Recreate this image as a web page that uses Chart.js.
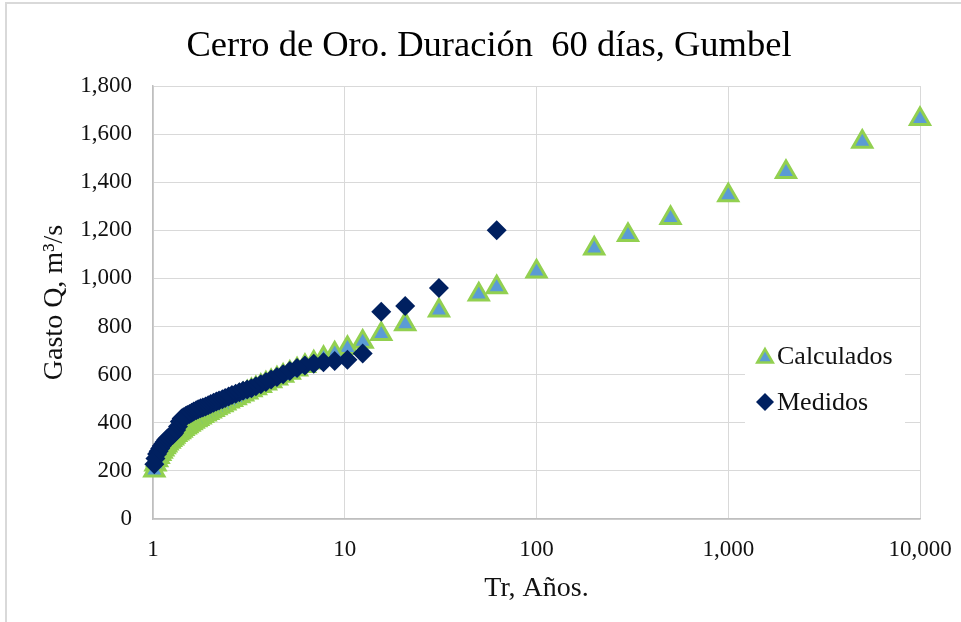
<!DOCTYPE html>
<html lang="es">
<head>
    <meta charset="UTF-8">
    <title>Cerro de Oro. Duración 60 días, Gumbel</title>
    <script src="https://cdn.jsdelivr.net/npm/chart.js"></script>
    <style>
        body {
            margin: 0;
            background: #ffffff;
        }
        .wrap {
            position: relative;
            width: 961px;
            height: 622px;
            overflow: hidden;
        }
        .frame {
            position: absolute;
            left: 5px;
            top: 2px;
            width: 1200px;
            height: 900px;
            border-left: 2px solid #d9d9d9;
            border-top: 2px solid #d9d9d9;
            pointer-events: none;
        }
        canvas {
            position: absolute;
            left: 0;
            top: 0;
        }
    </style>
</head>
<body>
    <div class="wrap">
        <canvas id="gumbelChart" width="961" height="622"></canvas>
        <div class="frame"></div>
    </div>

    <script>
        // periodos de retorno de los datos observados (n = 61)
        const trObs = [
            62, 31, 20.67, 15.5, 12.4, 10.33, 8.86, 7.75, 6.89, 6.2,
            5.64, 5.17, 4.77, 4.43, 4.13, 3.88, 3.65, 3.44, 3.26, 3.1,
            2.95, 2.82, 2.7, 2.58, 2.48, 2.38, 2.3, 2.21, 2.14, 2.07,
            2, 1.94, 1.88, 1.82, 1.77, 1.72, 1.68, 1.63, 1.59, 1.55,
            1.51, 1.48, 1.44, 1.41, 1.38, 1.35, 1.32, 1.29, 1.27, 1.24,
            1.22, 1.19, 1.17, 1.15, 1.13, 1.11, 1.09, 1.07, 1.05, 1.03, 1.016
        ];
        const qMedidos = [
            1200, 960, 885, 862, 688, 662, 657, 652, 645, 638,
            628, 615, 602, 590, 580, 570, 560, 552, 544, 538,
            533, 527, 521, 515, 509, 503, 498, 493, 488, 483,
            478, 473, 468, 464, 460, 456, 452, 447, 442, 437,
            432, 428, 423, 418, 405, 385, 370, 358, 350, 345,
            340, 335, 328, 320, 312, 303, 293, 282, 270, 252, 228
        ];
        const qCalcObs = [
            963, 867, 810, 769, 737, 711, 688, 669, 651, 636,
            621, 608, 596, 584, 573, 563, 553, 544, 535, 526,
            518, 510, 502, 495, 488, 480, 473, 467, 460, 453,
            447, 441, 434, 428, 422, 416, 410, 404, 398, 392,
            386, 380, 374, 367, 361, 355, 349, 342, 335, 328,
            321, 314, 306, 298, 289, 280, 270, 258, 244, 227, 202
        ];
        // periodos de retorno de diseño
        const trDiseno = [10000, 5000, 2000, 1000, 500, 300, 200, 100, 50];
        const qCalcDiseno = [1663, 1568, 1442, 1346, 1251, 1181, 1125, 1029, 933];

        const xTicks = [1, 10, 100, 1000, 10000];
        const seriesNames = ["Calculados", "Medidos"];
        const chartTitle = "Cerro de Oro. Duración  60 días, Gumbel";

        const serif = "'Liberation Serif', 'Times New Roman', serif";
        const colTri = "#5b9bd5";
        const colTriBorder = "#92d050";
        const colDiamond = "#002060";

        function toPoints(xs, ys) {
            return xs.map((x, i) => ({ x: x, y: ys[i] }));
        }

        const calcPoints = toPoints(trDiseno, qCalcDiseno).concat(toPoints(trObs, qCalcObs));
        const medPoints = toPoints(trObs, qMedidos);

        // título y leyenda dibujados a mano
        const boxLegend = {
            id: "boxLegend",
            afterDraw(chart) {
                const ctx = chart.ctx;
                ctx.save();
                ctx.fillStyle = "#000000";
                ctx.font = "36.5px " + serif;
                ctx.textAlign = "center";
                ctx.textBaseline = "middle";
                ctx.fillText(chartTitle, 489, 46);

                ctx.fillStyle = "#ffffff";
                ctx.fillRect(745, 334, 160, 94);

                // triángulo
                let cx = 765, cy = 358, r = 9;
                ctx.beginPath();
                ctx.moveTo(cx, cy - r);
                ctx.lineTo(cx + r * 0.866, cy + r * 0.5);
                ctx.lineTo(cx - r * 0.866, cy + r * 0.5);
                ctx.closePath();
                ctx.fillStyle = colTri;
                ctx.fill();
                ctx.lineWidth = 2.5;
                ctx.strokeStyle = colTriBorder;
                ctx.stroke();

                // rombo
                cx = 765; cy = 402; r = 9;
                ctx.beginPath();
                ctx.moveTo(cx, cy - r);
                ctx.lineTo(cx + r, cy);
                ctx.lineTo(cx, cy + r);
                ctx.lineTo(cx - r, cy);
                ctx.closePath();
                ctx.fillStyle = colDiamond;
                ctx.fill();

                ctx.fillStyle = "#111111";
                ctx.font = "26px " + serif;
                ctx.textAlign = "left";
                ctx.fillText(seriesNames[0], 777, 357);
                ctx.fillText(seriesNames[1], 777, 403);
                ctx.restore();
            }
        };

        const ctx = document.getElementById("gumbelChart").getContext("2d");
        new Chart(ctx, {
            type: "scatter",
            data: {
                datasets: [
                    {
                        label: seriesNames[0],
                        data: calcPoints,
                        pointStyle: "triangle",
                        pointRadius: 11,
                        pointHoverRadius: 11,
                        backgroundColor: colTri,
                        borderColor: colTriBorder,
                        borderWidth: 3,
                        clip: false,
                        order: 2
                    },
                    {
                        label: seriesNames[1],
                        data: medPoints,
                        pointStyle: "rectRot",
                        pointRadius: 10,
                        pointHoverRadius: 10,
                        backgroundColor: colDiamond,
                        borderColor: colDiamond,
                        borderWidth: 0,
                        clip: false,
                        order: 1
                    }
                ]
            },
            options: {
                responsive: false,
                animation: false,
                layout: { padding: { left: 0, right: 41, top: 86, bottom: 0 } },
                plugins: {
                    legend: { display: false },
                    tooltip: { enabled: false },
                    title: { display: false }
                },
                scales: {
                    x: {
                        type: "logarithmic",
                        min: 1,
                        max: 10000,
                        afterBuildTicks: (scale) => {
                            scale.ticks = xTicks.map(v => ({ value: v }));
                        },
                        afterFit: (scale) => {
                            scale.height = 103;
                            scale.paddingLeft = 0;
                            scale.paddingRight = 0;
                        },
                        ticks: {
                            color: "#111111",
                            font: { family: serif, size: 23 },
                            padding: 17,
                            maxRotation: 0,
                            autoSkip: false,
                            callback: (v) => Number(v).toLocaleString("en-US")
                        },
                        grid: { color: "#d9d9d9", drawTicks: false, lineWidth: 1 },
                        border: { color: "#bfbfbf", width: 1.5 },
                        title: {
                            display: true,
                            text: "Tr, Años.",
                            color: "#111111",
                            font: { family: serif, size: 28 },
                            padding: { top: 0, bottom: 17 }
                        }
                    },
                    y: {
                        min: 0,
                        max: 1800,
                        afterFit: (scale) => {
                            scale.width = 153;
                            scale.paddingTop = 0;
                            scale.paddingBottom = 0;
                        },
                        ticks: {
                            stepSize: 200,
                            color: "#111111",
                            font: { family: serif, size: 23 },
                            padding: 21,
                            callback: (v) => Number(v).toLocaleString("en-US")
                        },
                        grid: { color: "#d9d9d9", drawTicks: false, lineWidth: 1 },
                        border: { color: "#bfbfbf", width: 1.5 },
                        title: {
                            display: true,
                            text: "Gasto Q, m³/s",
                            color: "#111111",
                            font: { family: serif, size: 28 },
                            padding: { top: 38, bottom: 0 }
                        }
                    }
                }
            },
            plugins: [boxLegend]
        });
    </script>
</body>
</html>
